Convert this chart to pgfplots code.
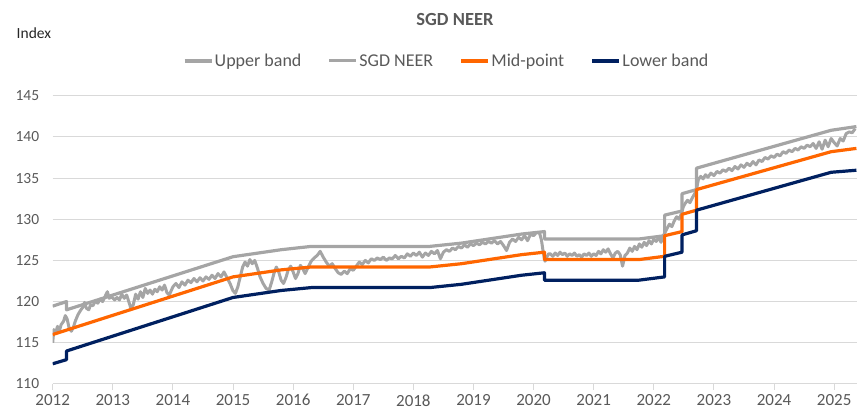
\documentclass[border=0pt]{standalone}
\usepackage{fontspec}
\setmainfont{Carlito}
\usepackage{pgfplots}
\pgfplotsset{compat=1.18}
\definecolor{bandgrey}{HTML}{A5A5A5}
\definecolor{midorange}{HTML}{FF6600}
\definecolor{lownavy}{HTML}{002060}
\definecolor{txt}{HTML}{595959}
\definecolor{gridc}{HTML}{D9D9D9}
\pgfplotstableread{
x y
2012.00 119.45
2012.23 120.0
2012.23 119.0
2015.00 125.45
2015.80 126.3
2016.30 126.7
2018.27 126.7
2018.80 127.1
2019.80 128.2
2020.18 128.5
2020.18 127.6
2021.75 127.6
2022.18 128.0
2022.18 130.5
2022.47 131.0
2022.47 133.1
2022.71 133.6
2022.71 136.2
2024.95 140.8
2025.37 141.25
}\upperband
\pgfplotstableread{
x y
2012.00 116.0
2015.00 123.0
2015.80 123.85
2016.30 124.2
2018.27 124.2
2018.80 124.6
2019.80 125.7
2020.18 126.0
2020.18 125.1
2021.75 125.1
2022.18 125.5
2022.18 128.0
2022.47 128.5
2022.47 130.6
2022.71 131.1
2022.71 133.6
2024.95 138.2
2025.37 138.6
}\midpoint
\pgfplotstableread{
x y
2012.00 112.45
2012.23 112.95
2012.23 114.0
2015.00 120.5
2015.80 121.35
2016.30 121.7
2018.27 121.7
2018.80 122.1
2019.80 123.2
2020.18 123.5
2020.18 122.6
2021.75 122.6
2022.18 123.0
2022.18 125.5
2022.47 126.0
2022.47 128.1
2022.71 128.6
2022.71 131.1
2024.95 135.7
2025.37 135.95
}\lowerband
\pgfplotstableread{
x y
2012.00 115.0
2012.02 116.6
2012.05 116.2
2012.08 117.0
2012.11 116.4
2012.14 117.2
2012.18 117.6
2012.21 118.3
2012.24 117.9
2012.27 116.9
2012.31 116.4
2012.34 116.8
2012.38 117.7
2012.42 118.4
2012.46 118.9
2012.50 119.3
2012.53 119.9
2012.56 119.2
2012.60 119.0
2012.63 119.6
2012.67 119.5
2012.71 120.1
2012.75 119.8
2012.79 120.3
2012.83 120.0
2012.87 120.6
2012.91 121.2
2012.94 120.4
2012.98 120.6
2013.03 120.2
2013.07 120.5
2013.11 120.2
2013.15 120.9
2013.19 120.4
2013.23 120.8
2013.27 119.9
2013.30 119.2
2013.34 119.6
2013.38 120.9
2013.42 120.3
2013.46 121.2
2013.50 120.5
2013.54 121.6
2013.58 121.0
2013.62 121.4
2013.66 120.9
2013.70 121.5
2013.74 121.2
2013.78 121.8
2013.82 121.4
2013.86 122.0
2013.90 121.1
2013.94 120.8
2014.00 121.8
2014.05 122.2
2014.10 121.7
2014.15 122.4
2014.20 122.0
2014.25 122.6
2014.30 122.3
2014.35 122.8
2014.40 122.4
2014.45 122.9
2014.50 122.5
2014.55 123.0
2014.60 122.7
2014.65 123.2
2014.70 122.8
2014.75 123.4
2014.80 123.0
2014.85 123.6
2014.90 122.9
2014.95 122.2
2015.00 121.3
2015.04 121.0
2015.08 121.8
2015.12 123.0
2015.16 124.2
2015.20 124.8
2015.24 124.3
2015.28 125.1
2015.32 124.6
2015.36 125.0
2015.40 124.2
2015.45 123.0
2015.50 122.2
2015.55 121.6
2015.60 121.4
2015.64 122.3
2015.68 123.4
2015.72 124.2
2015.76 123.6
2015.80 122.6
2015.84 122.2
2015.88 122.9
2015.92 123.9
2015.96 124.3
2016.00 123.6
2016.04 122.8
2016.08 123.4
2016.12 124.4
2016.16 124.0
2016.20 123.4
2016.25 124.2
2016.30 124.9
2016.35 125.3
2016.40 125.6
2016.45 126.1
2016.50 125.4
2016.55 124.8
2016.60 124.3
2016.65 124.6
2016.70 124.0
2016.75 123.5
2016.80 123.3
2016.85 123.7
2016.90 123.4
2016.95 124.0
2017.00 123.8
2017.05 124.3
2017.10 124.8
2017.15 124.5
2017.20 125.0
2017.25 124.7
2017.30 125.2
2017.35 125.0
2017.40 125.3
2017.45 125.1
2017.50 125.4
2017.55 125.0
2017.60 125.3
2017.65 125.2
2017.70 125.6
2017.75 125.2
2017.80 125.5
2017.85 125.3
2017.90 125.8
2017.95 125.5
2018.00 125.9
2018.05 125.6
2018.10 126.0
2018.15 125.4
2018.20 125.9
2018.25 125.6
2018.30 126.1
2018.35 125.8
2018.40 126.2
2018.45 125.2
2018.50 126.0
2018.55 126.3
2018.60 126.1
2018.65 126.5
2018.70 126.3
2018.75 126.7
2018.80 126.5
2018.85 126.9
2018.90 126.6
2018.95 127.0
2019.00 126.8
2019.05 127.1
2019.10 126.9
2019.15 127.2
2019.20 127.0
2019.25 127.3
2019.30 127.1
2019.35 127.4
2019.40 127.0
2019.45 127.3
2019.50 126.8
2019.55 126.2
2019.60 127.2
2019.65 127.6
2019.70 127.3
2019.75 127.8
2019.80 127.5
2019.85 128.0
2019.90 127.4
2019.95 128.2
2020.00 128.0
2020.05 128.4
2020.10 128.3
2020.13 127.5
2020.16 126.0
2020.19 124.9
2020.22 125.4
2020.25 125.8
2020.28 125.8
2020.32 125.5
2020.36 125.9
2020.40 125.6
2020.44 126.0
2020.48 125.7
2020.52 125.9
2020.56 125.5
2020.60 125.8
2020.64 125.6
2020.68 125.9
2020.72 125.5
2020.76 125.7
2020.80 125.4
2020.84 125.8
2020.88 125.6
2020.92 125.9
2020.96 125.5
2021.00 125.8
2021.04 125.6
2021.08 126.1
2021.12 125.8
2021.16 126.3
2021.20 126.0
2021.24 126.4
2021.28 125.8
2021.32 125.3
2021.36 125.9
2021.40 126.1
2021.44 125.7
2021.48 124.3
2021.52 125.6
2021.56 125.9
2021.60 126.5
2021.64 126.1
2021.68 126.7
2021.72 126.3
2021.76 127.0
2021.80 126.6
2021.84 127.2
2021.88 126.8
2021.92 127.4
2021.96 127.0
2022.00 127.6
2022.04 127.3
2022.08 127.8
2022.12 127.2
2022.15 127.9
2022.18 128.3
2022.22 128.9
2022.26 129.4
2022.30 129.1
2022.34 129.8
2022.38 130.3
2022.42 130.0
2022.46 130.7
2022.49 131.5
2022.52 131.9
2022.56 132.3
2022.60 132.0
2022.64 132.6
2022.68 133.1
2022.71 133.6
2022.74 134.8
2022.78 135.2
2022.82 134.9
2022.86 135.4
2022.90 135.1
2022.95 135.6
2023.00 135.3
2023.05 135.8
2023.10 135.6
2023.15 136.0
2023.20 135.8
2023.25 136.2
2023.30 135.9
2023.35 136.4
2023.40 136.1
2023.45 136.6
2023.50 136.3
2023.55 136.8
2023.60 136.5
2023.65 137.0
2023.70 136.6
2023.75 137.2
2023.80 137.0
2023.85 137.5
2023.90 137.3
2023.95 137.7
2024.00 137.5
2024.05 137.9
2024.10 137.7
2024.15 138.2
2024.20 138.0
2024.25 138.4
2024.30 138.2
2024.35 138.6
2024.40 138.4
2024.45 138.8
2024.50 138.6
2024.55 139.0
2024.60 138.8
2024.65 139.2
2024.70 138.6
2024.75 139.4
2024.80 138.5
2024.85 139.6
2024.90 138.8
2024.95 139.8
2025.00 139.3
2025.05 138.9
2025.10 139.8
2025.15 139.5
2025.20 140.4
2025.25 140.6
2025.30 140.5
2025.35 141.0
}\neer
\begin{document}
\begin{tikzpicture}
\path[use as bounding box] (-52.7bp,-30bp) rectangle (804.4bp,384bp);
\begin{axis}[
  scale only axis, width=804.4bp, height=288.3bp,
  xmin=2012, xmax=2025.38, ymin=110, ymax=145,
  xtick={2012,2013,2014,2015,2016,2017,2018,2019,2020,2021,2022,2023,2024,2025},
  xticklabels={2012,2013,2014,2015,2016,2017,2018,2019,2020,2021,2022,2023,2024,2025},
  ytick={110,115,120,125,130,135,140,145},
  axis x line*=bottom, axis y line*=left,
  x axis line style={draw=gridc, line width=1bp},
  y axis line style={draw=none},
  ytick style={draw=none},
  xtick style={draw=gridc, line width=1bp},
  tick align=outside, major tick length=6bp,
  ymajorgrids, grid style={draw=gridc, line width=1bp},
  /pgf/number format/assume math mode=true,
  xticklabel style={font=\fontsize{17bp}{20bp}\selectfont, text=txt, yshift=-1bp},
  yticklabel style={font=\fontsize{15.5bp}{18bp}\selectfont, text=txt, xshift=-4bp},
  legend columns=4,
  legend style={at={(0.4896,1.1204)}, anchor=center, draw=none, fill=none,
    font=\fontsize{18bp}{21bp}\selectfont, text=txt,
    nodes={inner sep=1.5bp},
    /tikz/every even column/.append style={column sep=25bp}},
  legend image code/.code={\draw[#1] (0bp,0bp) -- (27bp,0bp);},
  every axis plot/.append style={line join=round},
]
\addplot[bandgrey, line width=3.2bp] table {\upperband};
\addlegendentry{Upper band}
\addplot[bandgrey, line width=3bp] table {\neer};
\addlegendentry{SGD NEER}
\addplot[midorange, line width=3.2bp] table {\midpoint};
\addlegendentry{Mid-point}
\addplot[lownavy, line width=3.2bp] table {\lowerband};
\addlegendentry{Lower band}
\end{axis}
\node[font=\bfseries\fontsize{18.5bp}{21bp}\selectfont, text=txt] at (402.3bp,364bp) {SGD NEER};
\node[anchor=west, font=\fontsize{15.5bp}{18bp}\selectfont, text=black!85] at (-39.5bp,351bp) {Index};
\end{tikzpicture}
\end{document}
